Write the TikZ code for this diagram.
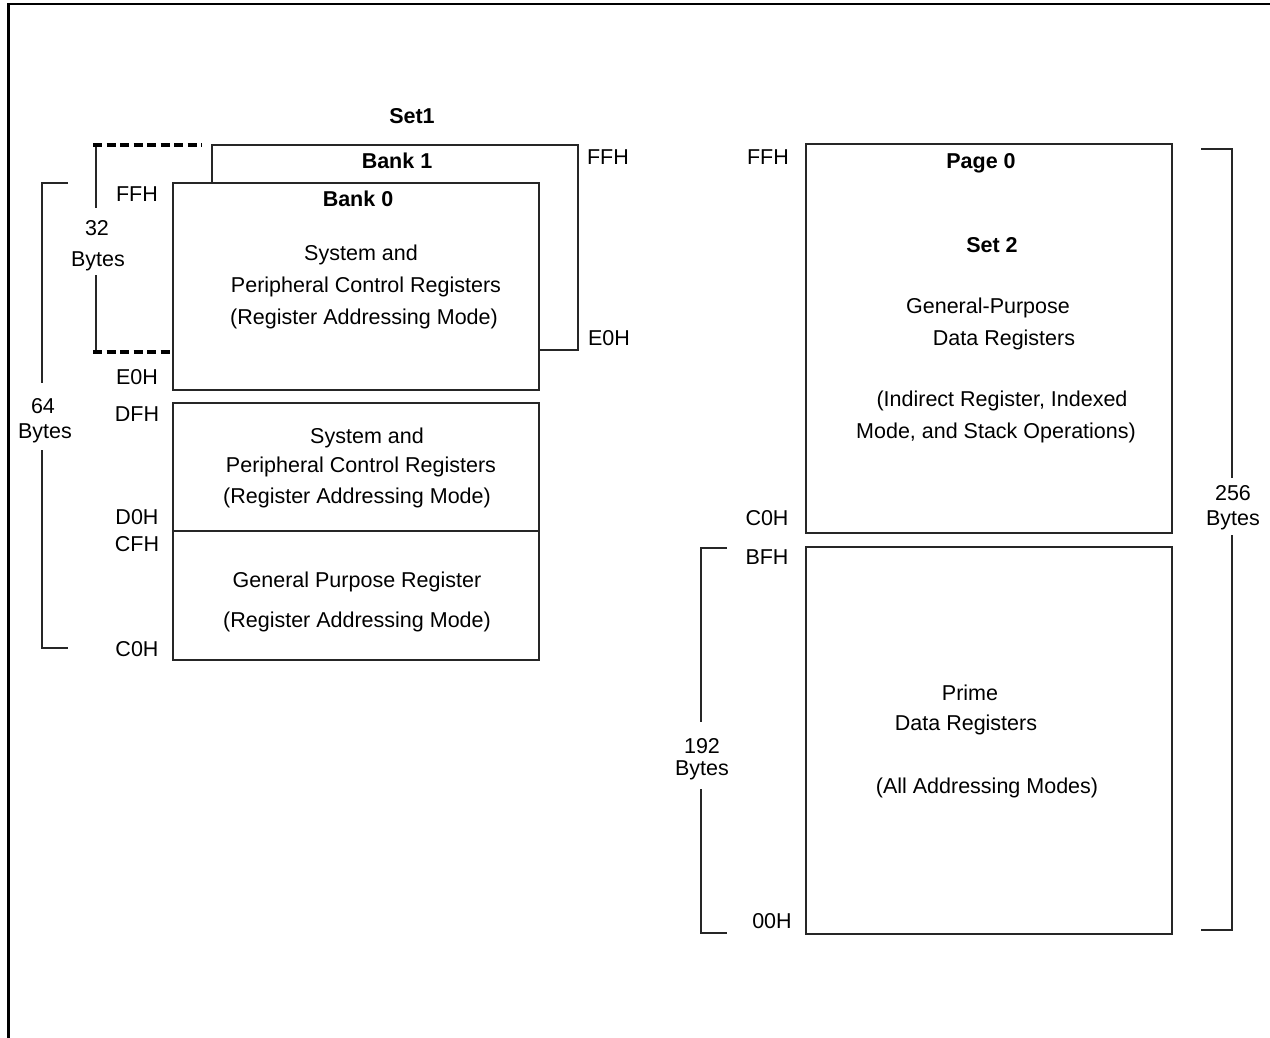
\documentclass[tikz,border=0pt]{standalone}
\usepackage{fontspec}
\setmainfont{Liberation Sans}
\begin{document}
\begin{tikzpicture}[x=1pt,y=-1pt,
  ln/.style={draw=black!85,line width=1.2pt},
  box/.style={ln,fill=white},
  frm/.style={line width=2.6pt,black},
  dsh/.style={line width=3.4pt,black,dash pattern=on 9pt off 4.5pt},
  tx/.style={anchor=base,yshift=-8pt,inner sep=0pt,font=\fontsize{21.5}{26}\selectfont},
  bt/.style={tx,font=\fontsize{21.5}{26}\selectfont\bfseries}]
\useasboundingbox (0,0) rectangle (1270,1038);
% frame
\draw[frm] (8.5,1038) -- (8.5,4) -- (1270,4);
% boxes
\draw[box] (212,145) rectangle (578,350);
\draw[box] (173,183) rectangle (539,390);
\draw[box] (173,403) rectangle (539,660);
\draw[ln] (173,531) -- (539,531);
\draw[box] (806,144) rectangle (1172,533);
\draw[box] (806,547) rectangle (1172,934);
% 64 bracket
\draw[ln] (68,183) -- (42,183) -- (42,383);
\draw[ln] (42,450) -- (42,648) -- (68,648);
% 32 bracket
\draw[ln] (96,145) -- (96,208);
\draw[ln] (96,275) -- (96,352);
\draw[dsh] (93,145) -- (202,145);
\draw[dsh] (93,352) -- (170,352);
% 256 bracket
\draw[ln] (1201,149) -- (1232,149) -- (1232,478);
\draw[ln] (1232,535) -- (1232,930) -- (1201,930);
% 192 bracket
\draw[ln] (727,548) -- (701,548) -- (701,722);
\draw[ln] (701,789) -- (701,933) -- (727,933);
% labels
\node[bt] (set1) at (412,116) {Set1};
\node[bt] (bank1) at (397,161) {Bank 1};
\node[bt] (bank0) at (358,199) {Bank 0};
\node[tx] (ffh1) at (608,157) {FFH};
\node[tx] (e0h1) at (609,337) {E0H};
\node[tx] (ffh0) at (137,193) {FFH};
\node[tx] (e0h0) at (137,376) {E0H};
\node[tx] (dfh) at (137,413) {DFH};
\node[tx] (d0h) at (137,516) {D0H};
\node[tx] (cfh) at (137,543) {CFH};
\node[tx] (c0hl) at (137,648) {C0H};
\node[tx] (a1) at (361,252) {System and};
\node[tx] (a2) at (366,284) {Peripheral Control Registers};
\node[tx] (a3) at (364,316) {(Register Addressing Mode)};
\node[tx] (b1) at (367,435) {System and};
\node[tx] (b2) at (361,464) {Peripheral Control Registers};
\node[tx] (b3) at (357,495) {(Register Addressing Mode)};
\node[tx] (c1) at (357,579) {General Purpose Register};
\node[tx] (c2) at (357,619) {(Register Addressing Mode)};
\node[tx] (ffhr) at (768,157) {FFH};
\node[tx] (c0hr) at (767,517) {C0H};
\node[tx] (bfh) at (767,556) {BFH};
\node[tx] (z0h) at (772,920) {00H};
\node[bt] (page0) at (981,160) {Page 0};
\node[bt] (set2) at (992,244) {Set 2};
\node[tx] (d1) at (988,305) {General-Purpose};
\node[tx] (d2) at (1004,337) {Data Registers};
\node[tx] (d3) at (1002,398) {(Indirect Register, Indexed};
\node[tx] (d4) at (996,430) {Mode, and Stack Operations)};
\node[tx] (e1) at (970,692) {Prime};
\node[tx] (e2) at (966,722) {Data Registers};
\node[tx] (e3) at (987,785) {(All Addressing Modes)};
\node[tx] (n256) at (1233,492) {256};
\node[tx] (by256) at (1233,517) {Bytes};
\node[tx] (n192) at (702,745) {192};
\node[tx] (by192) at (702,767) {Bytes};
\node[tx] (n64) at (43,405) {64};
\node[tx] (by64) at (45,430) {Bytes};
\node[tx] (n32) at (97,228) {32};
\node[tx] (by32) at (98,258) {Bytes};
\end{tikzpicture}
\end{document}
